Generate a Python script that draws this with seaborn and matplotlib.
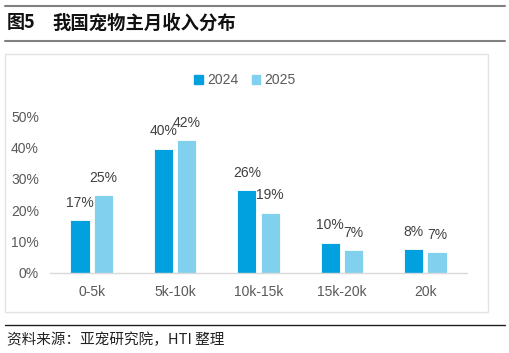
import pandas as pd
import matplotlib.pyplot as plt
import seaborn as sns
from matplotlib.patches import Rectangle
from matplotlib.lines import Line2D

# data
categories = ["0-5k", "5k-10k", "10k-15k", "15k-20k", "20k"]
share_2024 = [16.8, 39.6, 26.4, 9.6, 7.6]
share_2025 = [24.7, 42.2, 19.2, 7.2, 6.6]
labels_2024 = ["17%", "40%", "26%", "10%", "8%"]
labels_2025 = ["25%", "42%", "19%", "7%", "7%"]
years = ["2024", "2025"]
colors = ["#00A1DE", "#80D0EE"]

sns.set_theme(style="white")
plt.rcParams["font.family"] = ["Liberation Sans", "Noto Sans CJK SC", "DejaVu Sans"]

df = pd.DataFrame({
    "income": categories * 2,
    "share": share_2024 + share_2025,
    "year": [years[0]] * 5 + [years[1]] * 5,
})

fig = plt.figure(figsize=(5.1, 3.53), dpi=100)
ax = fig.add_axes([50 / 510, 1 - 273 / 353, 417 / 510, 157 / 353])

sns.barplot(data=df, x="income", y="share", hue="year", palette=colors,
            saturation=1, width=0.56, gap=0.18, edgecolor="white", linewidth=0.6,
            ax=ax, legend=False)

ax.set_ylim(0, 50)
ax.set_xlim(-0.5, 4.5)
ax.set_yticks(range(0, 51, 10))
ax.set_yticklabels([f"{v}%" for v in range(0, 51, 10)])
ax.set_xlabel("")
ax.set_ylabel("")
ax.tick_params(axis="both", colors="#595959", labelsize=10, length=0)
ax.tick_params(axis="x", pad=9)
ax.tick_params(axis="y", pad=8)
for s in ["top", "right", "left"]:
    ax.spines[s].set_visible(False)
ax.spines["bottom"].set_color("#D9D9D9")
ax.spines["bottom"].set_linewidth(1)

# value labels
for cont, labs in zip(ax.containers, [labels_2024, labels_2025]):
    for bar, lab in zip(cont, labs):
        x = bar.get_x() + bar.get_width() / 2
        ax.text(x, bar.get_height() + 3.3, lab, ha="center", va="bottom",
                fontsize=10, color="#404040", clip_on=False)

# legend
handles = [Rectangle((0, 0), 1, 1, color=c) for c in colors]
fig.legend(handles, years, loc="center", bbox_to_anchor=(245 / 510, 1 - 80 / 353),
           ncol=2, frameon=False, fontsize=10, handlelength=0.6, handleheight=0.6,
           handletextpad=0.3, columnspacing=1.0, labelcolor="#595959")

# frame around the chart
fig.patches.append(Rectangle((5 / 510, 1 - 312 / 353), 483 / 510, 258 / 353,
                             transform=fig.transFigure, fill=False,
                             edgecolor="#E3E3E3", linewidth=1))

# header and footer lines
fig.lines.append(Line2D([5 / 510, 505 / 510], [1 - 6 / 353] * 2, transform=fig.transFigure,
                        color="#808080", linewidth=1.5))
fig.lines.append(Line2D([5 / 510, 505 / 510], [1 - 41 / 353] * 2, transform=fig.transFigure,
                        color="#808080", linewidth=1.5))
fig.lines.append(Line2D([5 / 510, 505 / 510], [1 - 325 / 353] * 2, transform=fig.transFigure,
                        color="#202020", linewidth=1))

cjk = ["Noto Sans CJK SC", "DejaVu Sans"]
fig.text(7 / 510, 1 - 23 / 353, "图5", fontsize=13, fontweight="bold", va="center",
         family=cjk, color="#111111")
fig.text(52 / 510, 1 - 23 / 353, "我国宠物主月收入分布", fontsize=13.2, fontweight="bold",
         va="center", family=cjk, color="#111111")
fig.text(7 / 510, 1 - 340 / 353, "资料来源：亚宠研究院，HTI 整理", fontsize=10.5, va="center",
         family=cjk, color="#222222")

fig.savefig("out.png", dpi=100)
